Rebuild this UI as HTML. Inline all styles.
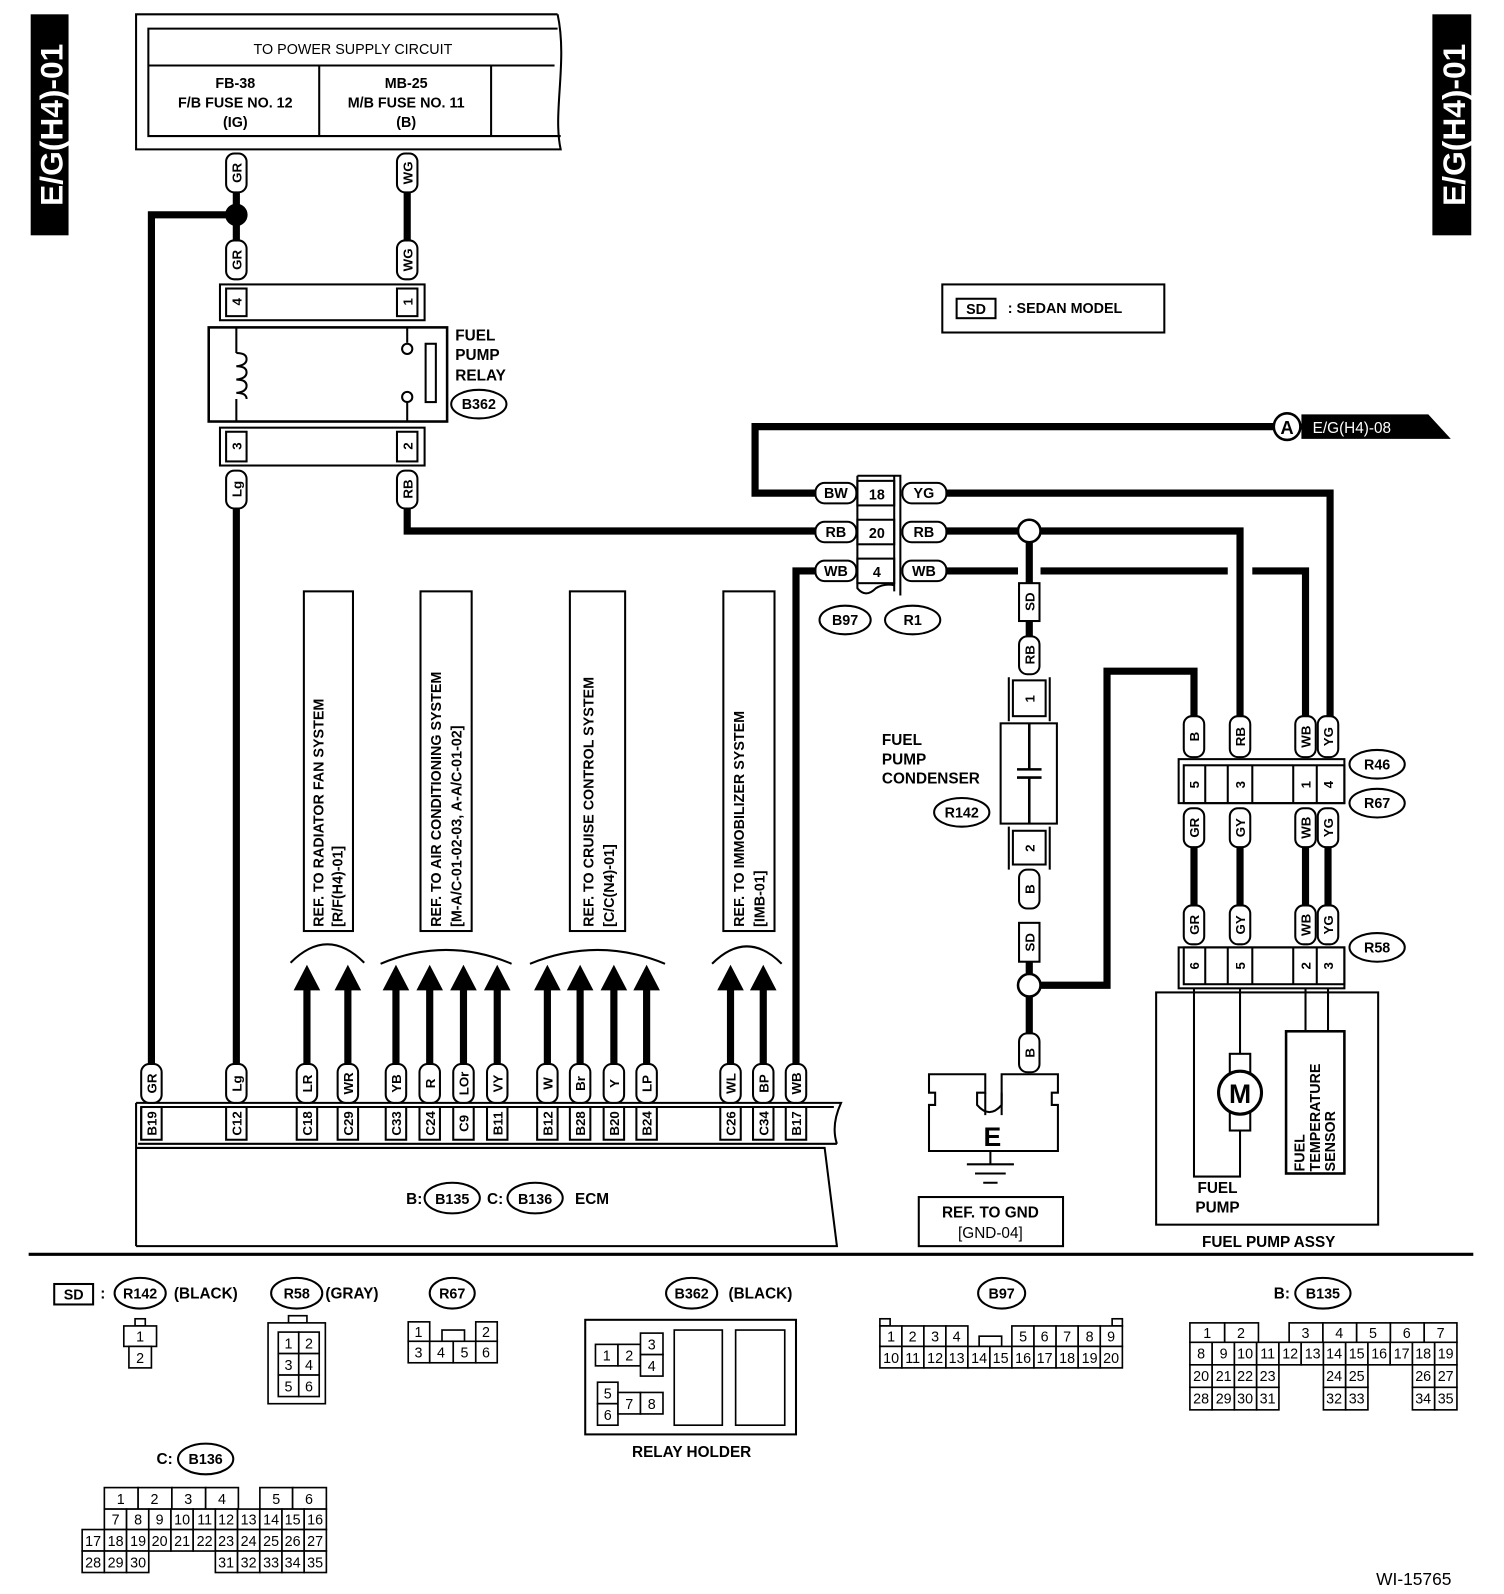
<!DOCTYPE html>
<html><head><meta charset="utf-8"><style>
html,body{margin:0;padding:0;background:#fff}
svg{display:block}
text{font-family:"Liberation Sans",sans-serif;font-weight:bold;fill:#000}
.t{font-size:14px}
.p rect{fill:#fff;stroke:#000;stroke-width:2}
.w{stroke:#000;stroke-width:7;fill:none}
.l{stroke:#000;stroke-width:2;fill:none}
.c rect{fill:#fff;stroke:#000;stroke-width:1.6}
.c text{font-weight:normal;font-size:14px;text-anchor:middle}
</style></head><body>
<svg width="1504" height="1594" viewBox="0 0 1470 1558" preserveAspectRatio="none" xmlns="http://www.w3.org/2000/svg">
<!-- side tabs -->
<rect x="30" y="14" width="37" height="216" fill="#000"/>
<text transform="translate(61,122) rotate(-90)" text-anchor="middle" font-size="31" style="fill:#fff">E/G(H4)-01</text>
<rect x="1400" y="14" width="38" height="216" fill="#000"/>
<text transform="translate(1432,122) rotate(-90)" text-anchor="middle" font-size="31" style="fill:#fff">E/G(H4)-01</text>

<!-- power supply box -->
<path class="l" d="M545,14 H133 V146 H548 C540,110 555,60 545,14" stroke-width="2.5"/>
<path class="l" d="M545,28 H145 V133 H548"/>
<line class="l" x1="145" y1="64" x2="542" y2="64"/>
<line class="l" x1="312" y1="64" x2="312" y2="133"/>
<line class="l" x1="480" y1="64" x2="480" y2="133"/>
<text x="345" y="53" text-anchor="middle" font-size="14" style="font-weight:normal">TO POWER SUPPLY CIRCUIT</text>
<g font-size="14" text-anchor="middle">
<text x="230" y="86">FB-38</text><text x="230" y="105">F/B FUSE NO. 12</text><text x="230" y="124">(IG)</text>
<text x="397" y="86">MB-25</text><text x="397" y="105">M/B FUSE NO. 11</text><text x="397" y="124">(B)</text>
</g>

<!-- wires -->
<g class="w">
<path d="M231,188 V235 M231,210 H148 V1040"/>
<path d="M398,188 V235"/>
<path d="M231,497 V1040"/>
<path d="M398,497 V519 H797"/>
<path d="M797,482 H738 V417 H1245"/>
<path d="M925,482 H1300 V700"/>
<path d="M925,519 H995 M1017,519 H1212 V700"/>
<path d="M925,558 H995 M1017,558 H1200 M1224,558 H1276 V700"/>
<path d="M797,558 H778 V1040"/>
<path d="M1006,530 V570 M1006,607 V622"/>
<path d="M1006,940 V952 M1006,974 V1010"/>
<path d="M1017,963 H1082 V656 H1167 V700"/>
<path d="M1167,828 V885 M1212,828 V885 M1276,828 V885 M1298,828 V885"/>
<path d="M300,1040 V965 M340,1040 V965 M387,1040 V965 M420,1040 V965 M453,1040 V965 M486,1040 V965 M535,1040 V965 M567,1040 V965 M600,1040 V965 M632,1040 V965 M714,1040 V965 M746,1040 V965"/>
</g>
<circle cx="231" cy="210" r="11" fill="#000"/>
<circle cx="1006" cy="519" r="11" fill="#fff" stroke="#000" stroke-width="2.5"/>
<circle cx="1006" cy="963" r="11" fill="#fff" stroke="#000" stroke-width="2.5"/>

<!-- arrows -->
<g fill="#000">
<path d="M287,968 L300,943 L313,968Z"/><path d="M327,968 L340,943 L353,968Z"/>
<path d="M374,968 L387,943 L400,968Z"/><path d="M407,968 L420,943 L433,968Z"/><path d="M440,968 L453,943 L466,968Z"/><path d="M473,968 L486,943 L499,968Z"/>
<path d="M522,968 L535,943 L548,968Z"/><path d="M554,968 L567,943 L580,968Z"/><path d="M587,968 L600,943 L613,968Z"/><path d="M619,968 L632,943 L645,968Z"/>
<path d="M701,968 L714,943 L727,968Z"/><path d="M733,968 L746,943 L759,968Z"/>
</g>
<g class="l" stroke-width="1.6">
<path d="M284,941 Q320,905 356,941"/>
<path d="M372,942 Q436,915 500,942"/>
<path d="M518,942 Q584,915 650,942"/>
<path d="M696,942 Q730,908 764,942"/>
</g>

<!-- ref boxes -->
<g class="l"><rect x="297" y="578" width="48" height="332"/><rect x="411" y="578" width="50" height="332"/><rect x="557" y="578" width="54" height="332"/><rect x="707" y="578" width="50" height="332"/></g>
<g font-size="14">
<text transform="translate(316,906) rotate(-90)">REF. TO RADIATOR FAN SYSTEM</text>
<text transform="translate(335,906) rotate(-90)">[R/F(H4)-01]</text>
<text transform="translate(431,906) rotate(-90)">REF. TO AIR CONDITIONING SYSTEM</text>
<text transform="translate(451,906) rotate(-90)">[M-A/C-01-02-03, A-A/C-01-02]</text>
<text transform="translate(580,906) rotate(-90)">REF. TO CRUISE CONTROL SYSTEM</text>
<text transform="translate(600,906) rotate(-90)">[C/C(N4)-01]</text>
<text transform="translate(727,906) rotate(-90)">REF. TO IMMOBILIZER SYSTEM</text>
<text transform="translate(747,906) rotate(-90)">[IMB-01]</text>
</g>

<!-- relay -->
<g class="l">
<rect x="215" y="278" width="200" height="35"/><rect x="221" y="282" width="20" height="27"/><rect x="388" y="282" width="20" height="27"/>
<rect x="204" y="320" width="233" height="92" stroke-width="2.5"/>
<rect x="215" y="418" width="200" height="37"/><rect x="221" y="422" width="20" height="29"/><rect x="388" y="422" width="20" height="29"/>
<path d="M231,320 V345 M231,390 V412"/>
<path d="M231,345 q10,0 10,6 t-10,7 q10,0 10,6 t-10,7 q10,0 10,6 t-10,7 q10,0 10,6"/>
<path d="M398,320 V335 M398,393 V412"/>
<circle cx="398" cy="341" r="5"/><circle cx="398" cy="388" r="5"/>
<rect x="416" y="336" width="10" height="57"/>
</g>
<g font-size="13" text-anchor="middle">
<text transform="translate(236,295) rotate(-90)">4</text><text transform="translate(403,295) rotate(-90)">1</text>
<text transform="translate(236,436) rotate(-90)">3</text><text transform="translate(403,436) rotate(-90)">2</text>
</g>
<g font-size="15"><text x="445" y="333">FUEL</text><text x="445" y="352">PUMP</text><text x="445" y="372">RELAY</text></g>
<ellipse cx="468" cy="395" rx="27" ry="14" class="l"/><text x="468" y="400" text-anchor="middle" font-size="14">B362</text>

<!-- SD legend -->
<rect x="921" y="278" width="217" height="47" class="l"/>
<rect x="935" y="292" width="38" height="19" class="l"/>
<text x="954" y="307" text-anchor="middle" font-size="14">SD</text>
<text x="985" y="306" font-size="14">: SEDAN MODEL</text>

<!-- A connector -->
<circle cx="1258" cy="417" r="13" fill="#fff" stroke="#000" stroke-width="2.5"/>
<text x="1258" y="424" text-anchor="middle" font-size="18">A</text>
<path d="M1272,405 H1396 L1418,429 H1272Z" fill="#000"/>
<text x="1283" y="423" font-size="15" style="fill:#fff;font-weight:normal">E/G(H4)-08</text>

<!-- B97/R1 -->
<path class="l" d="M838,465 H880 V582 M838,465 V575 q8,10 18,0 q8,-5 18,-3"/>
<path class="l" d="M874,465 V578"/>
<g class="l"><rect x="838" y="470" width="36" height="24"/><rect x="838" y="508" width="36" height="24"/><rect x="838" y="546" width="36" height="24"/></g>
<g font-size="14" text-anchor="middle"><text x="857" y="488">18</text><text x="857" y="526">20</text><text x="857" y="564">4</text></g>
<g class="p">
<rect x="797" y="472" width="40" height="20" rx="9"/><rect x="797" y="510" width="40" height="20" rx="9"/><rect x="797" y="548" width="40" height="20" rx="9"/>
<rect x="882" y="472" width="43" height="20" rx="9"/><rect x="882" y="510" width="43" height="20" rx="9"/><rect x="882" y="548" width="43" height="20" rx="9"/>
</g>
<g font-size="14" text-anchor="middle">
<text x="817" y="487">BW</text><text x="817" y="525">RB</text><text x="817" y="563">WB</text>
<text x="903" y="487">YG</text><text x="903" y="525">RB</text><text x="903" y="563">WB</text>
</g>
<g class="l"><ellipse cx="826" cy="606" rx="25" ry="14"/><ellipse cx="892" cy="606" rx="27" ry="14"/></g>
<g font-size="14" text-anchor="middle"><text x="826" y="611">B97</text><text x="892" y="611">R1</text></g>

<!-- condenser -->
<g class="l">
<path d="M986,662 V705 M1026,662 V705 M986,808 V850 M1026,808 V850"/>
<rect x="990" y="665" width="32" height="35"/>
<rect x="978" y="707" width="55" height="98"/>
<path d="M1006,707 V752 M1006,760 V805 M994,752 H1018 M994,760 H1018" stroke-width="2.5"/>
<rect x="990" y="812" width="32" height="33"/>
</g>
<g font-size="13" text-anchor="middle"><text transform="translate(1011,683) rotate(-90)">1</text><text transform="translate(1011,829) rotate(-90)">2</text></g>
<g font-size="15"><text x="862" y="728">FUEL</text><text x="862" y="747">PUMP</text><text x="862" y="766">CONDENSER</text></g>
<ellipse cx="940" cy="794" rx="27" ry="14" class="l"/><text x="940" y="799" text-anchor="middle" font-size="14">R142</text>
<rect x="996" y="570" width="20" height="37" class="l" fill="#fff"/>
<rect x="996" y="902" width="20" height="38" class="l" fill="#fff"/>

<!-- ground -->
<path class="l" stroke-width="2.5" d="M908,1050 H963 V1068 H955 V1080 Q967,1094 979,1080 V1068 H979 V1050 H1034 V1068 H1028 V1080 H1034 V1125 H908 V1080 H914 V1068 H908Z"/>
<path class="l" d="M963,1068 V1090 M979,1068 V1090"/>
<text x="970" y="1120" text-anchor="middle" font-size="26">E</text>
<path class="l" d="M968,1125 V1138 M945,1138 H991 M953,1147 H983 M961,1156 H975"/>
<rect x="898" y="1170" width="141" height="48" class="l"/>
<g font-size="15" text-anchor="middle"><text x="968" y="1190">REF. TO GND</text><text x="968" y="1210" style="font-weight:normal">[GND-04]</text></g>

<!-- R46/R67 connector -->
<g class="l">
<rect x="1152" y="742" width="162" height="43"/>
<rect x="1157" y="748" width="157" height="37"/>
<path d="M1178,748 V785 M1200,748 V785 M1224,748 V785 M1264,748 V785 M1287,748 V785"/>
<rect x="1152" y="926" width="162" height="40"/>
<rect x="1157" y="926" width="157" height="36"/>
<path d="M1178,926 V962 M1200,926 V962 M1224,926 V962 M1264,926 V962 M1287,926 V962"/>
</g>
<g font-size="13" text-anchor="middle">
<text transform="translate(1172,767) rotate(-90)">5</text><text transform="translate(1217,767) rotate(-90)">3</text>
<text transform="translate(1281,767) rotate(-90)">1</text><text transform="translate(1303,767) rotate(-90)">4</text>
<text transform="translate(1172,944) rotate(-90)">6</text><text transform="translate(1217,944) rotate(-90)">5</text>
<text transform="translate(1281,944) rotate(-90)">2</text><text transform="translate(1303,944) rotate(-90)">3</text>
</g>
<g class="l"><ellipse cx="1346" cy="747" rx="27" ry="14"/><ellipse cx="1346" cy="785" rx="27" ry="14"/><ellipse cx="1346" cy="926" rx="27" ry="14"/></g>
<g font-size="14" text-anchor="middle"><text x="1346" y="752">R46</text><text x="1346" y="790">R67</text><text x="1346" y="931">R58</text></g>

<!-- fuel pump assy -->
<rect x="1130" y="970" width="217" height="227" class="l" stroke-width="2.5"/>
<g class="l">
<path d="M1167,966 V1150 H1212 V1105 M1212,966 V1030 M1276,966 V1008 M1298,966 V1008"/>
<rect x="1202" y="1030" width="20" height="75"/>
<rect x="1257" y="1008" width="57" height="139" stroke-width="2.5"/>
</g>
<circle cx="1212" cy="1068" r="21" fill="#fff" stroke="#000" stroke-width="3"/>
<text x="1212" y="1078" text-anchor="middle" font-size="26">M</text>
<g font-size="14"><text transform="translate(1275,1145) rotate(-90)">FUEL</text><text transform="translate(1290,1145) rotate(-90)">TEMPERATURE</text><text transform="translate(1305,1145) rotate(-90)">SENSOR</text></g>
<g font-size="15" text-anchor="middle"><text x="1190" y="1166">FUEL</text><text x="1190" y="1185">PUMP</text><text x="1240" y="1219">FUEL PUMP ASSY</text></g>

<!-- ECM -->
<path class="l" stroke-width="2.5" d="M133,1078 H822 Q812,1100 818,1118 M135,1118 H818 M133,1078 V1218 M133,1122 H806 Q812,1170 818,1218 H133"/>
<path class="l" d="M138,1082 V1114 M138,1082 H815"/>
<g class="l">
<rect x="138" y="1082" width="20" height="32"/><rect x="221" y="1082" width="20" height="32"/>
<rect x="290" y="1082" width="20" height="32"/><rect x="330" y="1082" width="20" height="32"/>
<rect x="377" y="1082" width="20" height="32"/><rect x="410" y="1082" width="20" height="32"/><rect x="443" y="1082" width="20" height="32"/><rect x="476" y="1082" width="20" height="32"/>
<rect x="525" y="1082" width="20" height="32"/><rect x="557" y="1082" width="20" height="32"/><rect x="590" y="1082" width="20" height="32"/><rect x="622" y="1082" width="20" height="32"/>
<rect x="704" y="1082" width="20" height="32"/><rect x="736" y="1082" width="20" height="32"/><rect x="768" y="1082" width="20" height="32"/>
</g>
<g font-size="13" text-anchor="middle">
<text transform="translate(153,1098) rotate(-90)">B19</text><text transform="translate(236,1098) rotate(-90)">C12</text>
<text transform="translate(305,1098) rotate(-90)">C18</text><text transform="translate(345,1098) rotate(-90)">C29</text>
<text transform="translate(392,1098) rotate(-90)">C33</text><text transform="translate(425,1098) rotate(-90)">C24</text><text transform="translate(458,1098) rotate(-90)">C9</text><text transform="translate(491,1098) rotate(-90)">B11</text>
<text transform="translate(540,1098) rotate(-90)">B12</text><text transform="translate(572,1098) rotate(-90)">B28</text><text transform="translate(605,1098) rotate(-90)">B20</text><text transform="translate(637,1098) rotate(-90)">B24</text>
<text transform="translate(719,1098) rotate(-90)">C26</text><text transform="translate(751,1098) rotate(-90)">C34</text><text transform="translate(783,1098) rotate(-90)">B17</text>
</g>
<text x="397" y="1177" font-size="15">B:</text>
<ellipse cx="442" cy="1171" rx="27" ry="15" class="l"/><text x="442" y="1177" text-anchor="middle" font-size="14">B135</text>
<text x="476" y="1177" font-size="15">C:</text>
<ellipse cx="523" cy="1171" rx="27" ry="15" class="l"/><text x="523" y="1177" text-anchor="middle" font-size="14">B136</text>
<text x="562" y="1177" font-size="15">ECM</text>

<!-- vertical pills -->
<g class="p">
<rect x="221" y="150" width="20" height="38" rx="8"/><rect x="388" y="150" width="20" height="38" rx="8"/>
<rect x="221" y="235" width="20" height="38" rx="8"/><rect x="388" y="235" width="20" height="38" rx="8"/>
<rect x="221" y="460" width="20" height="37" rx="8"/><rect x="388" y="460" width="20" height="37" rx="8"/>
<rect x="996" y="622" width="20" height="37" rx="8"/><rect x="996" y="850" width="20" height="38" rx="8"/><rect x="996" y="1010" width="20" height="38" rx="8"/>
<rect x="1157" y="700" width="20" height="40" rx="8"/><rect x="1202" y="700" width="20" height="40" rx="8"/><rect x="1266" y="700" width="20" height="40" rx="8"/><rect x="1288" y="700" width="20" height="40" rx="8"/>
<rect x="1157" y="790" width="20" height="38" rx="8"/><rect x="1202" y="790" width="20" height="38" rx="8"/><rect x="1266" y="790" width="20" height="38" rx="8"/><rect x="1288" y="790" width="20" height="38" rx="8"/>
<rect x="1157" y="885" width="20" height="38" rx="8"/><rect x="1202" y="885" width="20" height="38" rx="8"/><rect x="1266" y="885" width="20" height="38" rx="8"/><rect x="1288" y="885" width="20" height="38" rx="8"/>
<rect x="138" y="1040" width="20" height="38" rx="8"/><rect x="221" y="1040" width="20" height="38" rx="8"/>
<rect x="290" y="1040" width="20" height="38" rx="8"/><rect x="330" y="1040" width="20" height="38" rx="8"/>
<rect x="377" y="1040" width="20" height="38" rx="8"/><rect x="410" y="1040" width="20" height="38" rx="8"/><rect x="443" y="1040" width="20" height="38" rx="8"/><rect x="476" y="1040" width="20" height="38" rx="8"/>
<rect x="525" y="1040" width="20" height="38" rx="8"/><rect x="557" y="1040" width="20" height="38" rx="8"/><rect x="590" y="1040" width="20" height="38" rx="8"/><rect x="622" y="1040" width="20" height="38" rx="8"/>
<rect x="704" y="1040" width="20" height="38" rx="8"/><rect x="736" y="1040" width="20" height="38" rx="8"/><rect x="768" y="1040" width="20" height="38" rx="8"/>
</g>
<g font-size="13" text-anchor="middle">
<text transform="translate(236,169) rotate(-90)">GR</text><text transform="translate(403,169) rotate(-90)">WG</text>
<text transform="translate(236,254) rotate(-90)">GR</text><text transform="translate(403,254) rotate(-90)">WG</text>
<text transform="translate(236,478) rotate(-90)">Lg</text><text transform="translate(403,478) rotate(-90)">RB</text>
<text transform="translate(1011,588) rotate(-90)">SD</text><text transform="translate(1011,640) rotate(-90)">RB</text>
<text transform="translate(1011,869) rotate(-90)">B</text><text transform="translate(1011,921) rotate(-90)">SD</text><text transform="translate(1011,1029) rotate(-90)">B</text>
<text transform="translate(1172,720) rotate(-90)">B</text><text transform="translate(1217,720) rotate(-90)">RB</text><text transform="translate(1281,720) rotate(-90)">WB</text><text transform="translate(1303,720) rotate(-90)">YG</text>
<text transform="translate(1172,809) rotate(-90)">GR</text><text transform="translate(1217,809) rotate(-90)">GY</text><text transform="translate(1281,809) rotate(-90)">WB</text><text transform="translate(1303,809) rotate(-90)">YG</text>
<text transform="translate(1172,904) rotate(-90)">GR</text><text transform="translate(1217,904) rotate(-90)">GY</text><text transform="translate(1281,904) rotate(-90)">WB</text><text transform="translate(1303,904) rotate(-90)">YG</text>
<text transform="translate(153,1059) rotate(-90)">GR</text><text transform="translate(236,1059) rotate(-90)">Lg</text>
<text transform="translate(305,1059) rotate(-90)">LR</text><text transform="translate(345,1059) rotate(-90)">WR</text>
<text transform="translate(392,1059) rotate(-90)">YB</text><text transform="translate(425,1059) rotate(-90)">R</text><text transform="translate(458,1059) rotate(-90)">LOr</text><text transform="translate(491,1059) rotate(-90)">VY</text>
<text transform="translate(540,1059) rotate(-90)">W</text><text transform="translate(572,1059) rotate(-90)">Br</text><text transform="translate(605,1059) rotate(-90)">Y</text><text transform="translate(637,1059) rotate(-90)">LP</text>
<text transform="translate(719,1059) rotate(-90)">WL</text><text transform="translate(751,1059) rotate(-90)">BP</text><text transform="translate(783,1059) rotate(-90)">WB</text>
</g>

<!-- divider -->
<line x1="28" y1="1226" x2="1440" y2="1226" stroke="#000" stroke-width="3"/>

<!-- bottom legends -->
<rect x="53" y="1255" width="38" height="20" class="l"/><text x="72" y="1270" text-anchor="middle" font-size="14">SD</text>
<text x="98" y="1269" font-size="15">:</text>
<g class="l"><ellipse cx="137" cy="1264" rx="25" ry="15"/><ellipse cx="290" cy="1264" rx="25" ry="15"/><ellipse cx="442" cy="1264" rx="22" ry="15"/><ellipse cx="676" cy="1264" rx="25" ry="15"/><ellipse cx="979" cy="1264" rx="23" ry="15"/><ellipse cx="1293" cy="1264" rx="27" ry="15"/><ellipse cx="201" cy="1426" rx="27" ry="15"/></g>
<g font-size="14">
<text x="137" y="1269" text-anchor="middle">R142</text><text x="170" y="1269" font-size="15">(BLACK)</text>
<text x="290" y="1269" text-anchor="middle">R58</text><text x="318" y="1269" font-size="15">(GRAY)</text>
<text x="442" y="1269" text-anchor="middle">R67</text>
<text x="676" y="1269" text-anchor="middle">B362</text><text x="712" y="1269" font-size="15">(BLACK)</text>
<text x="979" y="1269" text-anchor="middle">B97</text>
<text x="1245" y="1269" font-size="15">B:</text><text x="1293" y="1269" text-anchor="middle">B135</text>
<text x="153" y="1431" font-size="15">C:</text><text x="201" y="1431" text-anchor="middle">B136</text>
<text x="676" y="1424" text-anchor="middle" font-size="15">RELAY HOLDER</text>
</g>
<text x="1345" y="1549" font-size="17" style="font-weight:normal">WI-15765</text>

<g class="c">
<!-- R142 -->
<rect x="132" y="1289" width="10" height="7"/><rect x="121" y="1296" width="32" height="20"/><rect x="126" y="1316" width="22" height="21"/>
<text x="137" y="1311">1</text><text x="137" y="1332">2</text>
<!-- R58 -->
<rect x="282" y="1286" width="18" height="7"/><rect x="262" y="1293" width="56" height="79"/>
<rect x="272" y="1302" width="20" height="21"/><rect x="292" y="1302" width="20" height="21"/><rect x="272" y="1323" width="20" height="21"/><rect x="292" y="1323" width="20" height="21"/><rect x="272" y="1344" width="20" height="21"/><rect x="292" y="1344" width="20" height="21"/>
<text x="282" y="1318">1</text><text x="302" y="1318">2</text><text x="282" y="1339">3</text><text x="302" y="1339">4</text><text x="282" y="1360">5</text><text x="302" y="1360">6</text>
<!-- R67 -->
<rect x="399" y="1292" width="21" height="19"/><rect x="465" y="1292" width="21" height="19"/><rect x="432" y="1300" width="22" height="11"/>
<rect x="399" y="1311" width="21" height="21"/><rect x="420" y="1311" width="23" height="21"/><rect x="443" y="1311" width="22" height="21"/><rect x="465" y="1311" width="21" height="21"/>
<text x="409" y="1307">1</text><text x="475" y="1307">2</text><text x="409" y="1327">3</text><text x="431" y="1327">4</text><text x="454" y="1327">5</text><text x="475" y="1327">6</text>
<!-- B362 -->
<rect x="572" y="1290" width="206" height="112" style="stroke-width:2"/>
<rect x="659" y="1300" width="47" height="93"/><rect x="719" y="1300" width="48" height="93"/>
<rect x="582" y="1314" width="22" height="21"/><rect x="604" y="1314" width="22" height="21"/><rect x="626" y="1303" width="22" height="21"/><rect x="626" y="1324" width="22" height="21"/>
<rect x="584" y="1351" width="20" height="21"/><rect x="584" y="1372" width="20" height="21"/><rect x="604" y="1361" width="22" height="21"/><rect x="626" y="1361" width="22" height="21"/>
<text x="593" y="1330">1</text><text x="615" y="1330">2</text><text x="637" y="1319">3</text><text x="637" y="1340">4</text>
<text x="594" y="1367">5</text><text x="594" y="1388">6</text><text x="615" y="1377">7</text><text x="637" y="1377">8</text>
</g>

<!-- B97 -->
<g class="c">
<rect x="860" y="1289" width="10" height="7"/><rect x="1087" y="1289" width="10" height="7"/>
<rect x="957" y="1306" width="22" height="10"/>
<rect x="860" y="1296" width="21.5" height="20"/><rect x="881.5" y="1296" width="21.5" height="20"/><rect x="903" y="1296" width="21.5" height="20"/><rect x="924.5" y="1296" width="21.5" height="20"/>
<rect x="989" y="1296" width="21.6" height="20"/><rect x="1010.6" y="1296" width="21.6" height="20"/><rect x="1032.2" y="1296" width="21.6" height="20"/><rect x="1053.8" y="1296" width="21.6" height="20"/><rect x="1075.4" y="1296" width="21.6" height="20"/>
<text x="871" y="1311">1</text><text x="892" y="1311">2</text><text x="914" y="1311">3</text><text x="935" y="1311">4</text>
<text x="1000" y="1311">5</text><text x="1021" y="1311">6</text><text x="1043" y="1311">7</text><text x="1065" y="1311">8</text><text x="1086" y="1311">9</text>
<rect x="860" y="1316" width="21.5" height="21"/><rect x="881.5" y="1316" width="21.5" height="21"/><rect x="903" y="1316" width="21.5" height="21"/><rect x="924.5" y="1316" width="21.5" height="21"/><rect x="946" y="1316" width="21.5" height="21"/><rect x="967.5" y="1316" width="21.5" height="21"/><rect x="989" y="1316" width="21.6" height="21"/><rect x="1010.6" y="1316" width="21.6" height="21"/><rect x="1032.2" y="1316" width="21.6" height="21"/><rect x="1053.8" y="1316" width="21.6" height="21"/><rect x="1075.4" y="1316" width="21.6" height="21"/>
<text x="871" y="1332">10</text><text x="892" y="1332">11</text><text x="914" y="1332">12</text><text x="935" y="1332">13</text><text x="957" y="1332">14</text><text x="978" y="1332">15</text><text x="1000" y="1332">16</text><text x="1021" y="1332">17</text><text x="1043" y="1332">18</text><text x="1065" y="1332">19</text><text x="1086" y="1332">20</text>
</g>

<!-- B135 -->
<g class="c">
<rect x="1163" y="1293" width="34" height="19"/><rect x="1197" y="1293" width="33" height="19"/>
<rect x="1260" y="1293" width="33" height="19"/><rect x="1293" y="1293" width="33" height="19"/><rect x="1326" y="1293" width="33" height="19"/><rect x="1359" y="1293" width="33" height="19"/><rect x="1392" y="1293" width="32" height="19"/>
<text x="1180" y="1308">1</text><text x="1213" y="1308">2</text><text x="1276" y="1308">3</text><text x="1309" y="1308">4</text><text x="1342" y="1308">5</text><text x="1375" y="1308">6</text><text x="1408" y="1308">7</text>
<rect x="1163" y="1312" width="21.75" height="22"/><rect x="1184.75" y="1312" width="21.75" height="22"/><rect x="1206.5" y="1312" width="21.75" height="22"/><rect x="1228.25" y="1312" width="21.75" height="22"/><rect x="1250" y="1312" width="21.75" height="22"/><rect x="1271.75" y="1312" width="21.75" height="22"/><rect x="1293.5" y="1312" width="21.75" height="22"/><rect x="1315.25" y="1312" width="21.75" height="22"/><rect x="1337" y="1312" width="21.75" height="22"/><rect x="1358.75" y="1312" width="21.75" height="22"/><rect x="1380.5" y="1312" width="21.75" height="22"/><rect x="1402.25" y="1312" width="21.75" height="22"/>
<text x="1174" y="1328">8</text><text x="1196" y="1328">9</text><text x="1217" y="1328">10</text><text x="1239" y="1328">11</text><text x="1261" y="1328">12</text><text x="1283" y="1328">13</text><text x="1304" y="1328">14</text><text x="1326" y="1328">15</text><text x="1348" y="1328">16</text><text x="1370" y="1328">17</text><text x="1391" y="1328">18</text><text x="1413" y="1328">19</text>
<rect x="1163" y="1334" width="21.75" height="22"/><rect x="1184.75" y="1334" width="21.75" height="22"/><rect x="1206.5" y="1334" width="21.75" height="22"/><rect x="1228.25" y="1334" width="21.75" height="22"/>
<rect x="1293.5" y="1334" width="21.75" height="22"/><rect x="1315.25" y="1334" width="21.75" height="22"/><rect x="1380.5" y="1334" width="21.75" height="22"/><rect x="1402.25" y="1334" width="21.75" height="22"/>
<text x="1174" y="1350">20</text><text x="1196" y="1350">21</text><text x="1217" y="1350">22</text><text x="1239" y="1350">23</text><text x="1304" y="1350">24</text><text x="1326" y="1350">25</text><text x="1391" y="1350">26</text><text x="1413" y="1350">27</text>
<rect x="1163" y="1356" width="21.75" height="22"/><rect x="1184.75" y="1356" width="21.75" height="22"/><rect x="1206.5" y="1356" width="21.75" height="22"/><rect x="1228.25" y="1356" width="21.75" height="22"/>
<rect x="1293.5" y="1356" width="21.75" height="22"/><rect x="1315.25" y="1356" width="21.75" height="22"/><rect x="1380.5" y="1356" width="21.75" height="22"/><rect x="1402.25" y="1356" width="21.75" height="22"/>
<text x="1174" y="1372">28</text><text x="1196" y="1372">29</text><text x="1217" y="1372">30</text><text x="1239" y="1372">31</text><text x="1304" y="1372">32</text><text x="1326" y="1372">33</text><text x="1391" y="1372">34</text><text x="1413" y="1372">35</text>
</g>

<!-- B136 -->
<g class="c">
<rect x="102" y="1454" width="33" height="21"/><rect x="135" y="1454" width="33" height="21"/><rect x="168" y="1454" width="33" height="21"/><rect x="201" y="1454" width="32" height="21"/>
<rect x="254" y="1454" width="32" height="21"/><rect x="286" y="1454" width="33" height="21"/>
<text x="118" y="1470">1</text><text x="151" y="1470">2</text><text x="184" y="1470">3</text><text x="217" y="1470">4</text><text x="270" y="1470">5</text><text x="302" y="1470">6</text>
<rect x="102" y="1475" width="21.7" height="20"/><rect x="123.7" y="1475" width="21.7" height="20"/><rect x="145.4" y="1475" width="21.7" height="20"/><rect x="167.1" y="1475" width="21.7" height="20"/><rect x="188.8" y="1475" width="21.7" height="20"/><rect x="210.5" y="1475" width="21.7" height="20"/><rect x="232.2" y="1475" width="21.7" height="20"/><rect x="253.9" y="1475" width="21.7" height="20"/><rect x="275.6" y="1475" width="21.7" height="20"/><rect x="297.3" y="1475" width="21.7" height="20"/>
<text x="113" y="1490">7</text><text x="135" y="1490">8</text><text x="156" y="1490">9</text><text x="178" y="1490">10</text><text x="200" y="1490">11</text><text x="221" y="1490">12</text><text x="243" y="1490">13</text><text x="265" y="1490">14</text><text x="286" y="1490">15</text><text x="308" y="1490">16</text>
<rect x="80.3" y="1495" width="21.7" height="21"/><rect x="102" y="1495" width="21.7" height="21"/><rect x="123.7" y="1495" width="21.7" height="21"/><rect x="145.4" y="1495" width="21.7" height="21"/><rect x="167.1" y="1495" width="21.7" height="21"/><rect x="188.8" y="1495" width="21.7" height="21"/><rect x="210.5" y="1495" width="21.7" height="21"/><rect x="232.2" y="1495" width="21.7" height="21"/><rect x="253.9" y="1495" width="21.7" height="21"/><rect x="275.6" y="1495" width="21.7" height="21"/><rect x="297.3" y="1495" width="21.7" height="21"/>
<text x="91" y="1511">17</text><text x="113" y="1511">18</text><text x="135" y="1511">19</text><text x="156" y="1511">20</text><text x="178" y="1511">21</text><text x="200" y="1511">22</text><text x="221" y="1511">23</text><text x="243" y="1511">24</text><text x="265" y="1511">25</text><text x="286" y="1511">26</text><text x="308" y="1511">27</text>
<rect x="80.3" y="1516" width="21.7" height="21"/><rect x="102" y="1516" width="21.7" height="21"/><rect x="123.7" y="1516" width="21.7" height="21"/>
<rect x="210.5" y="1516" width="21.7" height="21"/><rect x="232.2" y="1516" width="21.7" height="21"/><rect x="253.9" y="1516" width="21.7" height="21"/><rect x="275.6" y="1516" width="21.7" height="21"/><rect x="297.3" y="1516" width="21.7" height="21"/>
<text x="91" y="1532">28</text><text x="113" y="1532">29</text><text x="135" y="1532">30</text><text x="221" y="1532">31</text><text x="243" y="1532">32</text><text x="265" y="1532">33</text><text x="286" y="1532">34</text><text x="308" y="1532">35</text>
</g>
</svg>
</body></html>
